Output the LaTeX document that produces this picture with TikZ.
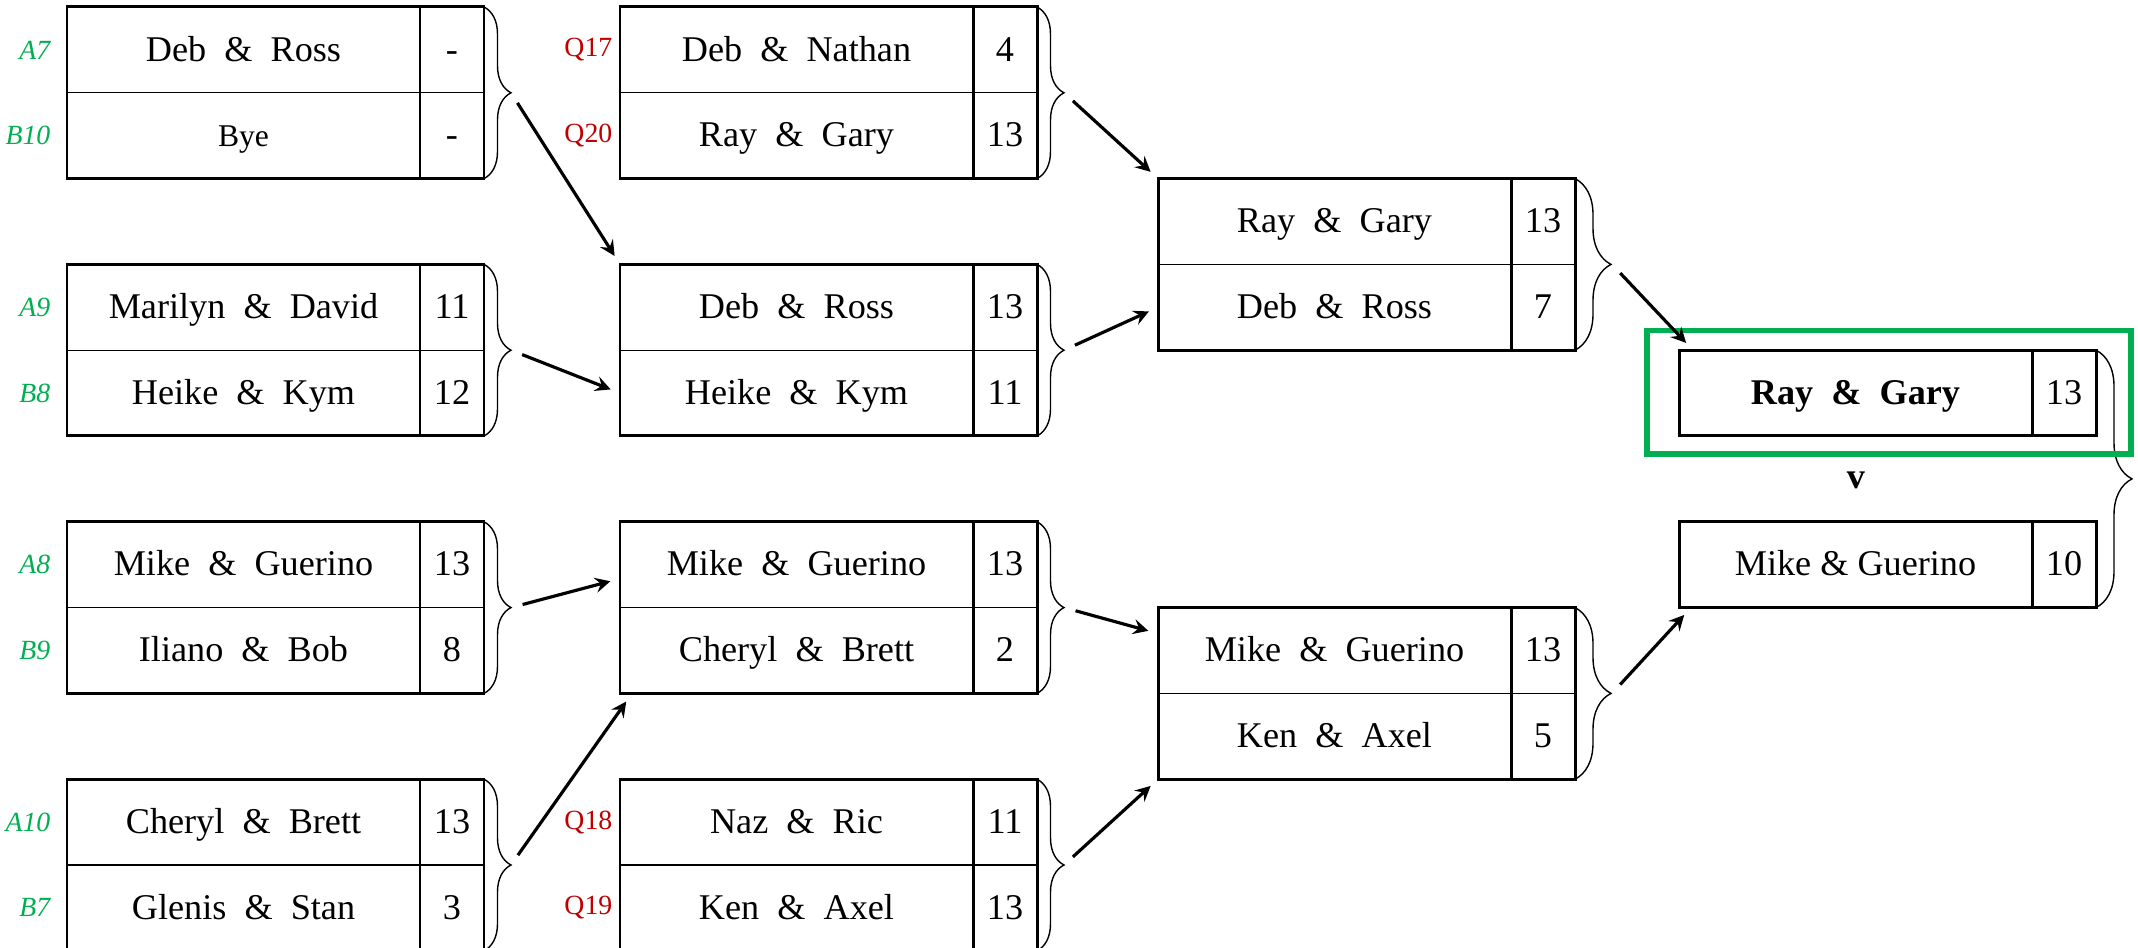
\documentclass[tikz,border=0pt]{standalone}
\usepackage{fontspec}
\setmainfont{Liberation Serif}
\usetikzlibrary{arrows,positioning,decorations.pathreplacing}
\definecolor{seedgreen}{RGB}{0,176,80}
\definecolor{qualred}{RGB}{192,0,0}

\begin{document}
\begin{tikzpicture}[auto]
\tikzstyle{team} = [rectangle, draw, line width=0.3pt, minimum width=3.53cm,
minimum height=0.858cm, inner sep=0pt, outer sep=0pt, anchor=north west,
text height=1.4ex, text depth=0pt, font=\fontsize{10.3}{12}\selectfont]
\tikzstyle{score} = [team, minimum width=0.64cm]
\tikzstyle{frame} = [draw, line width=0.85pt]
\tikzstyle{pairbrace} = [draw, line width=0.4pt, decorate, decoration={brace, amplitude=0.27cm}]
\tikzstyle{bigbrace} = [draw, line width=0.4pt, decorate, decoration={brace, amplitude=0.36cm}]
\tikzstyle{seed} = [text=seedgreen, font=\fontsize{7.9}{9}\selectfont\itshape, inner sep=0pt]
\tikzstyle{qual} = [text=qualred, font=\fontsize{7.9}{9}\selectfont, inner sep=0pt]
\tikzstyle{line} = [draw, line width=0.9pt, -stealth, shorten <=0.12cm, shorten >=0.1cm]
\tikzstyle{winner} = [draw=seedgreen, line width=1.5pt]
\useasboundingbox (0,0) rectangle (21.38,-9.48);

% round 1
\node [team] (a1t) at (0.67,-0.07) {Deb~~\&~~Ross};
\node [score, right=0pt of a1t] (a1ts) {-};
\node [team, below=0pt of a1t, font=\fontsize{9}{11}\selectfont] (a1b) {Bye};
\node [score, right=0pt of a1b] (a1bs) {-};
\node [team] (a2t) at (0.67,-2.644) {Marilyn~~\&~~David};
\node [score, right=0pt of a2t] (a2ts) {11};
\node [team, below=0pt of a2t] (a2b) {Heike~~\&~~Kym};
\node [score, right=0pt of a2b] (a2bs) {12};
\node [team] (a3t) at (0.67,-5.218) {Mike~~\&~~Guerino};
\node [score, right=0pt of a3t] (a3ts) {13};
\node [team, below=0pt of a3t] (a3b) {Iliano~~\&~~Bob};
\node [score, right=0pt of a3b] (a3bs) {8};
\node [team] (a4t) at (0.67,-7.792) {Cheryl~~\&~~Brett};
\node [score, right=0pt of a4t] (a4ts) {13};
\node [team, below=0pt of a4t] (a4b) {Glenis~~\&~~Stan};
\node [score, right=0pt of a4b] (a4bs) {3};

\node [seed, left=0.16cm of a1t] (sA7) {A7};
\node [seed, left=0.16cm of a1b] (sB10) {B10};
\node [seed, left=0.16cm of a2t] (sA9) {A9};
\node [seed, left=0.16cm of a2b] (sB8) {B8};
\node [seed, left=0.16cm of a3t] (sA8) {A8};
\node [seed, left=0.16cm of a3b] (sB9) {B9};
\node [seed, left=0.16cm of a4t] (sA10) {A10};
\node [seed, left=0.16cm of a4b] (sB7) {B7};

% round 2
\node [team] (b1t) at (6.20,-0.07) {Deb~~\&~~Nathan};
\node [score, right=0pt of b1t] (b1ts) {4};
\node [team, below=0pt of b1t] (b1b) {Ray~~\&~~Gary};
\node [score, right=0pt of b1b] (b1bs) {13};
\node [team] (b2t) at (6.20,-2.644) {Deb~~\&~~Ross};
\node [score, right=0pt of b2t] (b2ts) {13};
\node [team, below=0pt of b2t] (b2b) {Heike~~\&~~Kym};
\node [score, right=0pt of b2b] (b2bs) {11};
\node [team] (b3t) at (6.20,-5.218) {Mike~~\&~~Guerino};
\node [score, right=0pt of b3t] (b3ts) {13};
\node [team, below=0pt of b3t] (b3b) {Cheryl~~\&~~Brett};
\node [score, right=0pt of b3b] (b3bs) {2};
\node [team] (b4t) at (6.20,-7.792) {Naz~~\&~~Ric};
\node [score, right=0pt of b4t] (b4ts) {11};
\node [team, below=0pt of b4t] (b4b) {Ken~~\&~~Axel};
\node [score, right=0pt of b4b] (b4bs) {13};

\node [qual, left=0.07cm of b1t] (qQ17) {Q17};
\node [qual, left=0.07cm of b1b] (qQ20) {Q20};
\node [qual, left=0.07cm of b4t] (qQ18) {Q18};
\node [qual, left=0.07cm of b4b] (qQ19) {Q19};

% round 3
\node [team] (c1t) at (11.58,-1.786) {Ray~~\&~~Gary};
\node [score, right=0pt of c1t] (c1ts) {13};
\node [team, below=0pt of c1t] (c1b) {Deb~~\&~~Ross};
\node [score, right=0pt of c1b] (c1bs) {7};
\node [team] (c2t) at (11.58,-6.076) {Mike~~\&~~Guerino};
\node [score, right=0pt of c2t] (c2ts) {13};
\node [team, below=0pt of c2t] (c2b) {Ken~~\&~~Axel};
\node [score, right=0pt of c2b] (c2bs) {5};

% final
\node [team] (d1t) at (16.79,-3.502) {\bfseries Ray~~\&~~Gary};
\node [score, right=0pt of d1t] (d1ts) {13};
\node [team] (d1b) at (16.79,-5.218) {Mike \& Guerino};
\node [score, right=0pt of d1b] (d1bs) {10};
\node [font=\fontsize{10.3}{12}\selectfont\bfseries] (vee) at (18.56,-4.80) {v};

% frames and braces
\foreach \m in {a1,a2,a3,a4,b1,b2,b3,b4,c1,c2}{
  \draw[frame] (\m t.north west) rectangle (\m bs.south east)
    (\m ts.north west) -- (\m bs.south west);
}
\foreach \m in {a1,a2,a3,a4,b1,b2,b3,b4}{
  \draw[pairbrace] (\m ts.north east) -- (\m bs.south east);
  \coordinate (\m out) at ([xshift=0.27cm]\m ts.south east);
}
\foreach \m in {c1,c2}{
  \draw[bigbrace] (\m ts.north east) -- (\m bs.south east);
  \coordinate (\m out) at ([xshift=0.37cm]\m ts.south east);
}
\draw[frame] (d1t.north west) rectangle (d1ts.south east) (d1ts.north west) -- (d1ts.south west);
\draw[frame] (d1b.north west) rectangle (d1bs.south east) (d1bs.north west) -- (d1bs.south west);
\draw[bigbrace] (d1ts.north east) -- (d1bs.south east);
\draw[winner] ([shift={(-0.32,0.20)}]d1t.north west) rectangle ([shift={(0.35,-0.18)}]d1ts.south east);

% arrows
\draw[line] (a1out) -- (b2t.north west);
\draw[line] (a2out) -- (b2b.west);
\draw[line] (a3out) -- ([yshift=-0.14cm]b3t.west);
\draw[line] (a4out) -- ([xshift=0.12cm]b3b.south west);
\draw[line] (b1out) -- (c1t.north west);
\draw[line] (b2out) -- (c1b.west);
\draw[line] (b3out) -- ([yshift=0.17cm]c2t.west);
\draw[line] (b4out) -- (c2b.south west);
\draw[line] (c1out) -- ([xshift=0.14cm]d1t.north west);
\draw[line] (c2out) -- ([xshift=0.12cm]d1b.south west);
\end{tikzpicture}
\end{document}
